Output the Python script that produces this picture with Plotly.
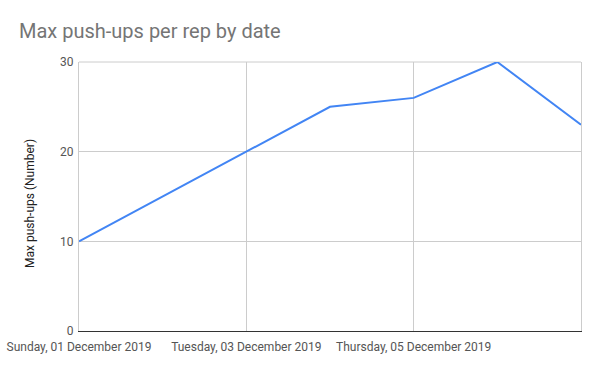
import plotly.graph_objects as go

dates = ["2019-12-01", "2019-12-02", "2019-12-03", "2019-12-04", "2019-12-05", "2019-12-06", "2019-12-07"]
pushups = [10, 15, 20, 25, 26, 30, 23]

x_tick_vals = ["2019-12-01", "2019-12-03", "2019-12-05", "2019-12-07"]
x_tick_text = ["Sunday, 01 December 2019", "Tuesday, 03 December 2019", "Thursday, 05 December 2019", ""]
y_tick_vals = [0, 10, 20, 30]

fig = go.Figure()
fig.add_trace(go.Scatter(
    x=dates, y=pushups, mode="lines",
    line=dict(color="#4285F4", width=2),
    name="Max push-ups", cliponaxis=False,
))

fig.update_layout(
    width=600, height=371,
    margin=dict(l=79, r=19, t=62, b=40),
    paper_bgcolor="white", plot_bgcolor="white",
    font=dict(family="Roboto", color="#555555", size=12),
    showlegend=False,
    title=dict(
        text="Max push-ups per rep by date",
        x=19 / 600, xanchor="left", y=1 - 31 / 371, yanchor="middle",
        font=dict(family="Roboto", size=20, color="#757575"),
    ),
    xaxis=dict(
        type="date",
        range=["2019-12-01", "2019-12-07"],
        tickmode="array", tickvals=x_tick_vals, ticktext=x_tick_text,
        showgrid=True, gridcolor="#cccccc", gridwidth=1,
        showline=True, linecolor="#333333", linewidth=1,
        ticks="outside", ticklen=5, tickcolor="rgba(0,0,0,0)",
        tickfont=dict(family="Roboto", size=12, color="#555555"),
        zeroline=False, automargin=False,
    ),
    yaxis=dict(
        range=[0, 30],
        tickmode="array", tickvals=y_tick_vals,
        showgrid=True, gridcolor="#cccccc", gridwidth=1,
        zeroline=False, showline=True, linecolor="#cccccc", mirror=True,
        ticks="outside", ticklen=2, tickcolor="rgba(0,0,0,0)",
        tickfont=dict(family="Roboto", size=12, color="#555555"),
        automargin=False,
    ),
    shapes=[dict(type="line", xref="paper", yref="paper", x0=0, x1=1, y0=1, y1=1,
                 line=dict(color="#cccccc", width=1), layer="below")],
    annotations=[dict(
        text="Max push-ups (Number)", xref="paper", yref="paper",
        x=(30 - 79) / (600 - 79 - 19), y=(331 - 204) / 269, xanchor="center", yanchor="middle",
        textangle=-90, showarrow=False,
        font=dict(family="Roboto", size=12, color="#222222"),
    )],
)

fig.write_html(
    "out.html",
    config={"displayModeBar": False},
    post_script="document.body.style.margin='0';document.body.style.overflow='hidden';",
)
